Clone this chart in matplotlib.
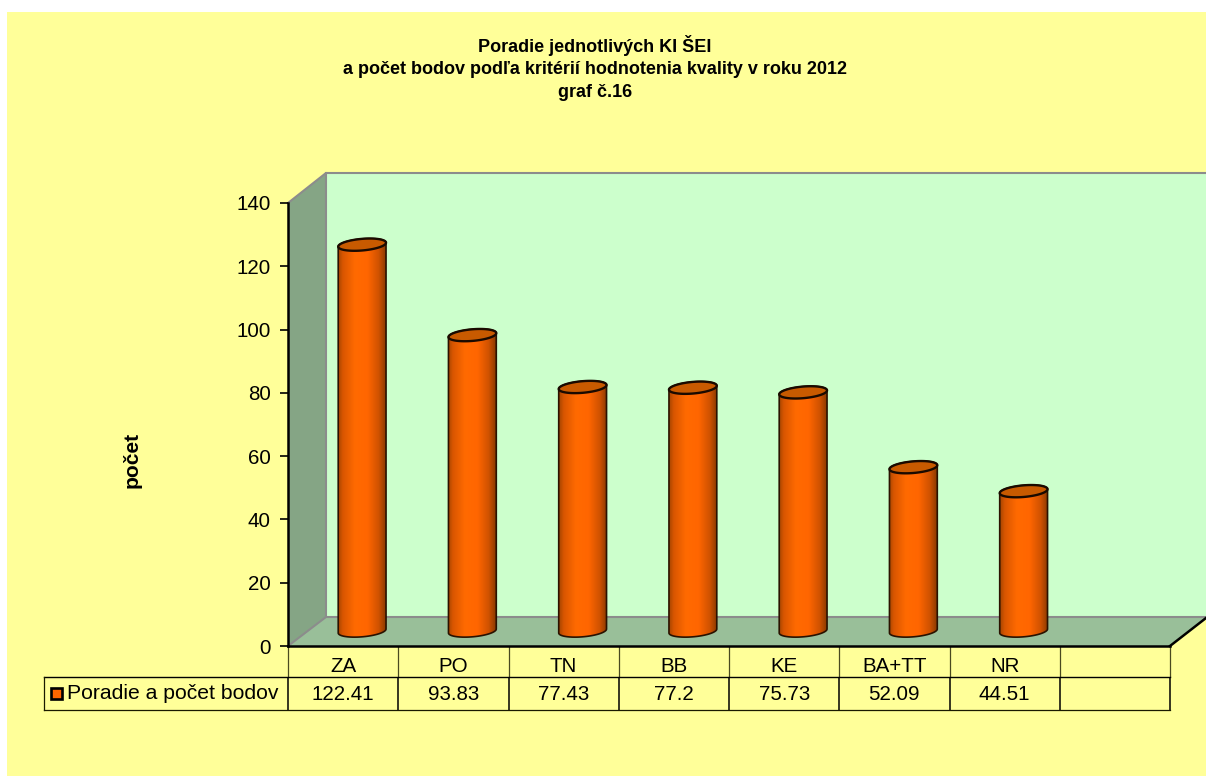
import numpy as np
import matplotlib
matplotlib.use("Agg")
import matplotlib.pyplot as plt
from matplotlib.patches import Polygon, Rectangle
from matplotlib.colors import LinearSegmentedColormap

categories = ["ZA", "PO", "TN", "BB", "KE", "BA+TT", "NR"]
values = [122.41, 93.83, 77.43, 77.2, 75.73, 52.09, 44.51]
value_labels = ["122.41", "93.83", "77.43", "77.2", "75.73", "52.09", "44.51"]
series_name = "Poradie a počet bodov"
title = "Poradie jednotlivých KI ŠEI\na počet bodov podľa kritérií hodnotenia kvality v roku 2012\ngraf č.16"
ylabel = "počet"
yticks = [0, 20, 40, 60, 80, 100, 120, 140]

plt.rcParams["font.family"] = ["Liberation Sans", "DejaVu Sans"]
W, H = 1206, 776
YEL, BACK, SIDE, FLOOR = "#FFFF99", "#CCFFCC", "#85A585", "#99BF99"
fig = plt.figure(figsize=(W / 100, H / 100), dpi=100, facecolor="white")

# pixel-space layer for the chart frame and the data table
bg = fig.add_axes([0, 0, 1, 1], zorder=0)
bg.set_xlim(0, W); bg.set_ylim(H, 0); bg.axis("off")
bg.add_patch(Rectangle((7, 12), W - 7, H - 12, fc=YEL, ec="none"))
bg.add_patch(Rectangle((326, 173), W - 326, 444, fc=BACK, ec="none"))
bg.add_patch(Polygon([(288, 203), (326, 173), (326, 617), (288, 646)], fc=SIDE, ec="none"))
bg.add_patch(Polygon([(288, 646), (326, 617), (W, 617), (W, 618), (1170, 646)], fc=FLOOR, ec="none"))
bg.plot([288, 326, W], [203, 173, 173], color="#8C8C8C", lw=1.5)
bg.plot([326, 326, W], [173, 617, 617], color="#8C8C8C", lw=1.5)
bg.plot([288, 326], [646, 617], color="#8C8C8C", lw=1.5)
bg.plot([1170, 1206], [646, 618], color="black", lw=1.8)

x0, x1, ytab0, ytab1, ytab2 = 288, 1170, 646, 677, 710
slot = (x1 - x0) / 8
for i in range(0, 9):
    xx = x0 + i * slot
    bg.plot([xx, xx], [ytab0, ytab1], color="#4A4A20", lw=0.9, solid_capstyle="butt")
    bg.plot([xx, xx], [ytab1, ytab2], color="black", lw=1.1, solid_capstyle="butt")
bg.plot([44, x1], [ytab1, ytab1], color="black", lw=1.0)
bg.plot([44, x1], [ytab2, ytab2], color="#1A1A00", lw=0.9)
bg.plot([44, 44], [ytab1, ytab2], color="#1A1A00", lw=0.9)
bg.add_patch(Rectangle((51, 688), 11, 11, fc="#FF6600", ec="black", lw=1.9))
bg.text(67, 693.5, series_name, fontsize=15.2, ha="left", va="center")
for i, (c, v) in enumerate(zip(categories, value_labels)):
    xc = x0 + (i + 0.5) * slot
    bg.text(xc, 666, c, fontsize=14.8, ha="center", va="center")
    bg.text(xc, 694.5, v, fontsize=14.8, ha="center", va="center")

bg.text(595, 68, title, fontsize=13, fontweight="bold", ha="center", va="center", linespacing=1.42)
bg.text(132, 460, ylabel, fontsize=15, fontweight="bold", rotation=90, ha="center", va="center")

# data axes: front plane of the 3D box
ax = fig.add_axes([x0 / W, 1 - 646 / H, (x1 - x0) / W, (646 - 203) / H], zorder=1)
ax.patch.set_alpha(0)
ax.set_xlim(0, 8); ax.set_ylim(0, 140)
ax.set_autoscale_on(False)
for s in ("top", "right"):
    ax.spines[s].set_visible(False)
ax.spines["left"].set_linewidth(1.8)
ax.spines["bottom"].set_linewidth(1.8)
ax.set_xticks([])
ax.set_yticks(yticks)
ax.tick_params(axis="y", length=5.5, width=1.2, labelsize=14.8, pad=7)

px = 8 / (x1 - x0)            # one pixel in x data units
py = 140 / (646 - 203)        # one pixel in y data units
dep_x, dep_top, dep_bot = 19 * px, 14 * py, 15 * py
a, b, phi = 24.0, 5.8, np.radians(5)
cmap = LinearSegmentedColormap.from_list("cyl", [(0, "#A84600"), (0.1, "#D95600"), (0.35, "#FF6A00"),
                                                 (0.62, "#FF6600"), (0.85, "#D05200"), (1, "#8C3A00")])
grad = np.linspace(0, 1, 128)[None, :]


def ell(t, cx, cy):
    ex = a * np.cos(t) * np.cos(phi) - b * np.sin(t) * np.sin(phi)
    ey = a * np.cos(t) * np.sin(phi) + b * np.sin(t) * np.cos(phi)
    return cx + ex * px, cy + ey * py


for i, v in enumerate(values):
    cx = i + 0.5 + dep_x
    bot, top = dep_bot, v + dep_top
    tb = np.linspace(np.pi, 2 * np.pi, 40)
    xb, yb = ell(tb, cx, bot)
    xt, yt = ell(np.linspace(0, np.pi, 40), cx, top)
    body = np.column_stack([np.r_[xb, xt], np.r_[yb, yt]])
    poly = Polygon(body, closed=True, fc="none", ec="#2A1200", lw=1.2, zorder=3)
    ax.add_patch(poly)
    im = ax.imshow(grad, cmap=cmap, aspect="auto", zorder=2,
                   extent=[cx - a * px, cx + a * px, bot - 12 * py, top + 12 * py])
    im.set_clip_path(poly)
    xe, ye = ell(np.linspace(0, 2 * np.pi, 80), cx, top)
    ax.add_patch(Polygon(np.column_stack([xe, ye]), closed=True, fc="#C85A00", ec="#1A0A00", lw=1.7, zorder=4))
ax.set_xlim(0, 8); ax.set_ylim(0, 140)
for p in ax.patches:
    p.set_clip_on(False)

fig.savefig("out.png", dpi=100, facecolor=fig.get_facecolor())
